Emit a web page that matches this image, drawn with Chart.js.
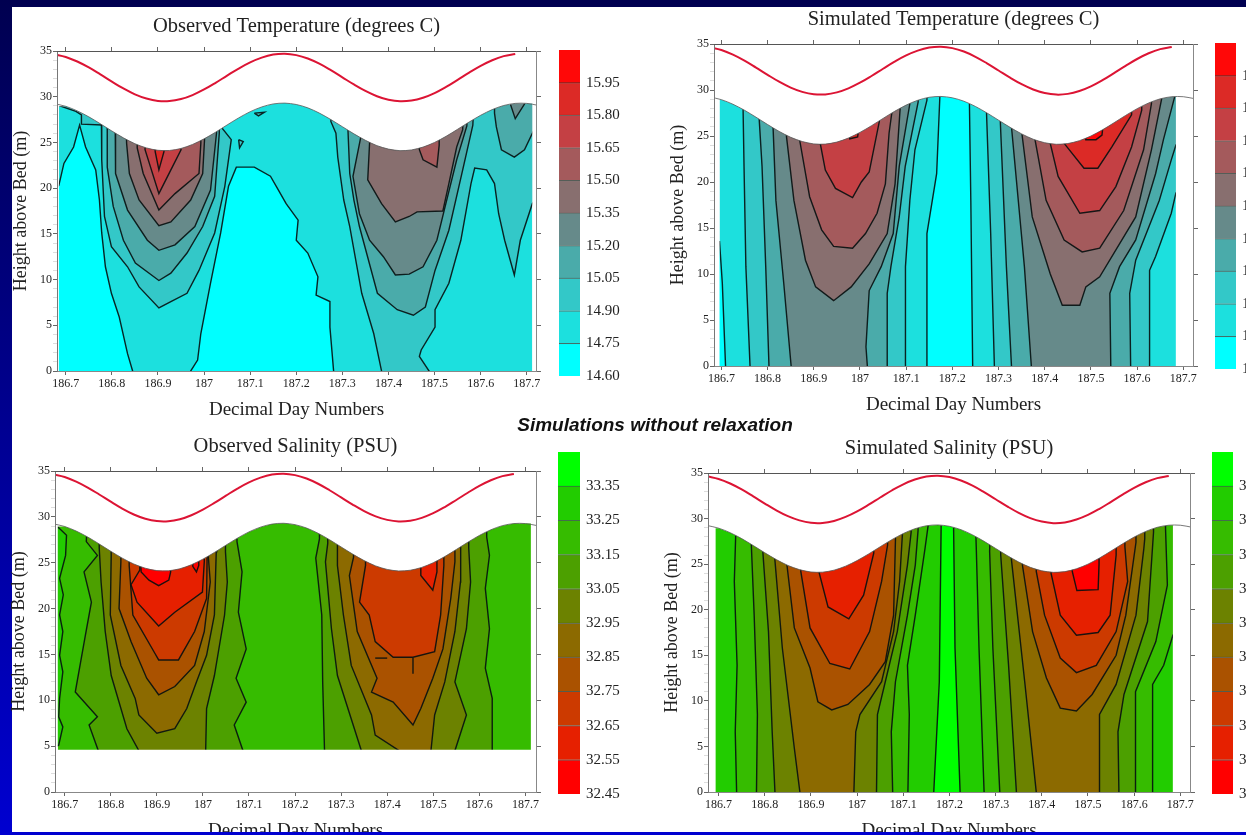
<!DOCTYPE html>
<html>
<head>
<meta charset="utf-8">
<title>Observed and simulated temperature and salinity</title>
<script src="https://cdn.jsdelivr.net/npm/chart.js@4/dist/chart.umd.min.js"></script>
<style>
  html, body { margin: 0; width: 1246px; height: 835px; overflow: hidden; background: linear-gradient(#000050, #0000d0); }
  #sheet { position: absolute; left: 12px; top: 7px; width: 1234px; height: 825px; background: #fff; }
  #strip { position: absolute; left: 0; top: 832px; width: 1246px; height: 3px; background: #0000d0; z-index: 5; }
  canvas { position: absolute; }
  #note { position: absolute; left: 455px; width: 400px; top: 414px; text-align: center; z-index: 4;
    font: italic bold 19px "Liberation Sans", sans-serif; color: #111; white-space: nowrap; }
</style>
</head>
<body>
<div id="sheet"></div>
<div id="note">Simulations without relaxation</div>
<div id="strip"></div>

<script>
// Shared axes ---------------------------------------------------------------
const dayTicks = [186.7, 186.8, 186.9, 187, 187.1, 187.2, 187.3, 187.4, 187.5, 187.6, 187.7];
const heightTicks = [0, 1, 2, 3, 4, 5, 6, 7, 8, 9, 10, 11, 12, 13, 14, 15, 16, 17, 18, 19, 20, 21, 22, 23, 24, 25, 26, 27, 28, 29, 30, 31, 32, 33, 34, 35];
const sideTicks = [0, 5, 10, 15, 20, 25, 30, 35];

// Water surface and tide curve
const surfaceDays = [186.675, 186.7, 186.725, 186.75, 186.775, 186.8, 186.825, 186.85, 186.875, 186.9, 186.925, 186.95, 186.975, 187, 187.025, 187.05, 187.075, 187.1, 187.125, 187.15, 187.175, 187.2, 187.225, 187.25, 187.275, 187.3, 187.325, 187.35, 187.375, 187.4, 187.425, 187.45, 187.475, 187.5, 187.525, 187.55, 187.575, 187.6, 187.625, 187.65, 187.675, 187.7, 187.725];
const surfaceHeights = [29.24, 28.95, 28.45, 27.8, 27.04, 26.25, 25.5, 24.86, 24.4, 24.14, 24.12, 24.34, 24.78, 25.39, 26.12, 26.91, 27.68, 28.36, 28.88, 29.21, 29.3, 29.15, 28.78, 28.21, 27.5, 26.72, 25.94, 25.23, 24.65, 24.27, 24.1, 24.18, 24.49, 25, 25.67, 26.44, 27.23, 27.97, 28.59, 29.04, 29.27, 29.27, 29.05];
const tideHeights = [34.64, 34.35, 33.85, 33.2, 32.44, 31.65, 30.9, 30.26, 29.8, 29.54, 29.52, 29.74, 30.18, 30.79, 31.52, 32.31, 33.08, 33.76, 34.28, 34.61, 34.7, 34.55, 34.18, 33.61, 32.9, 32.12, 31.34, 30.63, 30.05, 29.67, 29.5, 29.58, 29.89, 30.4, 31.07, 31.84, 32.63, 33.37, 33.99, 34.44, 34.67];

// Colour bars ---------------------------------------------------------------
const tempEdges = [14.6, 14.75, 14.9, 15.05, 15.2, 15.35, 15.5, 15.65, 15.8, 15.95, 16.1];
const tempLabels = [14.6, 14.75, 14.9, 15.05, 15.2, 15.35, 15.5, 15.65, 15.8, 15.95];
const tempColors = ["#00ffff", "#1ce0de", "#33c8c8", "#4aabaa", "#668a8a", "#886f6f", "#a45a5c", "#c44044", "#dc2a26", "#ff0808"];
const saltEdges = [32.45, 32.55, 32.65, 32.75, 32.85, 32.95, 33.05, 33.15, 33.25, 33.35, 33.45];
const saltLabels = [32.45, 32.55, 32.65, 32.75, 32.85, 32.95, 33.05, 33.15, 33.25, 33.35];
const saltColors = ["#ff0000", "#e62000", "#cc3a00", "#aa5200", "#8c6a00", "#6c8200", "#4ca000", "#36bc00", "#22cc00", "#00ff00"];

// Observed temperature contours [day, height] --------------------------------
const otCyanLeft = [[186.66, 19], [186.685, 20.3], [186.696, 22.7], [186.717, 24.5], [186.73, 26.9], [186.743, 24.5], [186.765, 22], [186.773, 18.7], [186.778, 15.1], [186.786, 11.4], [186.799, 8.5], [186.816, 5.9], [186.834, 1.9], [186.845, 0], [186.85, -2], [186.66, -2]];
const otCyanMid = [[186.968, -2], [186.971, 0], [186.986, 1.2], [186.993, 4.1], [187.014, 9.6], [187.036, 15.1], [187.053, 20.2], [187.07, 22.3], [187.109, 22.3], [187.144, 21.3], [187.161, 19.8], [187.178, 18.3], [187.204, 16.5], [187.2, 14.3], [187.225, 12.9], [187.247, 10.3], [187.243, 8.3], [187.273, 7.6], [187.273, 4.8], [187.281, 0], [187.283, -2]];
const otB1 = [[186.777, 29], [186.778, 26.2], [186.778, 23.1], [186.784, 16.9], [186.799, 13.6], [186.834, 11.4], [186.859, 9.2], [186.902, 6.9], [186.928, 7.6], [186.963, 8.5], [186.989, 11], [187.023, 15.1], [187.045, 20.2], [187.059, 25.3], [187.04, 26.5], [187.03, 28]];
const otC1 = [[186.79, 29], [186.79, 26.2], [186.79, 22.3], [186.803, 18], [186.825, 14.3], [186.851, 11.8], [186.902, 9.9], [186.928, 10.7], [186.963, 12.9], [186.997, 15.8], [187.023, 19.1], [187.033, 26], [187.033, 28]];
const otD1 = [[186.807, 29], [186.808, 25.6], [186.808, 21.6], [186.834, 17.6], [186.877, 14.3], [186.902, 13.2], [186.937, 13.8], [186.98, 15.8], [187.014, 19.8], [187.027, 26], [187.027, 28]];
const otE1 = [[186.83, 29], [186.832, 24.9], [186.838, 21.6], [186.859, 18.7], [186.902, 15.9], [186.928, 16.3], [186.971, 18.7], [186.997, 21.6], [187.001, 25.3], [187.001, 28]];
const otF1 = [[186.855, 29], [186.855, 24.4], [186.868, 21.6], [186.902, 17.6], [186.937, 19.4], [186.989, 21.6], [186.993, 24.9], [186.993, 28]];
const otG1 = [[186.872, 29], [186.872, 24.2], [186.902, 19.4], [186.928, 22], [186.95, 24.2], [186.95, 28]];
const otH1 = [[186.89, 28], [186.894, 24], [186.902, 22], [186.913, 24], [186.915, 28]];
const otB2 = [[187.28, 30], [187.275, 27.3], [187.286, 26], [187.29, 23.4], [187.303, 18.7], [187.316, 15.8], [187.342, 8.5], [187.368, 4.1], [187.385, 0], [187.39, -2], [187.49, -2], [187.488, 0], [187.467, 1.6], [187.471, 2.3], [187.501, 4.8], [187.501, 6.7], [187.531, 9.6], [187.557, 14.3], [187.579, 20.5], [187.587, 22.2], [187.613, 22], [187.63, 20.5], [187.639, 17.2], [187.652, 14.3], [187.673, 10.5], [187.686, 14.3], [187.712, 18.3], [187.74, 20], [187.74, 36]];
const otC2 = [[187.31, 29], [187.312, 26.5], [187.316, 21.6], [187.325, 18.7], [187.337, 15.8], [187.376, 8.5], [187.419, 6.7], [187.454, 6.1], [187.48, 7], [187.501, 11], [187.531, 15.4], [187.561, 22], [187.583, 26.9], [187.585, 29]];
const otD2 = [[187.337, 28], [187.34, 25.6], [187.323, 21.3], [187.337, 17.2], [187.359, 14.3], [187.389, 12.5], [187.415, 10.5], [187.445, 10.6], [187.475, 11.4], [187.505, 14.3], [187.523, 18], [187.548, 23.1], [187.57, 26.8], [187.572, 29]];
const otE2 = [[187.36, 28], [187.359, 24.9], [187.355, 20.9], [187.385, 18.3], [187.415, 16.3], [187.445, 16.9], [187.462, 17.4], [187.518, 17.5], [187.531, 20.5], [187.548, 24.5], [187.561, 26.4], [187.563, 29]];
const otI = [[187.467, 27], [187.467, 24.2], [187.475, 23.1], [187.505, 22.3], [187.51, 24.7], [187.51, 27]];
const otJ = [[187.63, 30], [187.63, 28.2], [187.634, 26.7], [187.645, 24.2], [187.673, 23.4], [187.695, 24.2], [187.714, 26.2], [187.74, 27], [187.74, 32]];
const otK = [[187.66, 31], [187.665, 29.1], [187.675, 27.6], [187.695, 29.2], [187.7, 31]];
const otCorner = [[186.66, 29.5], [186.687, 29], [186.722, 28.4], [186.734, 28], [186.734, 27], [186.778, 26.9], [186.78, 30]];
const otIslandA = [[187.109, 28.2], [187.131, 28.3], [187.118, 27.9], [187.109, 28.2]];
const otIslandB = [[187.075, 25.3], [187.085, 25.1], [187.077, 24.4], [187.075, 25.3]];

// Simulated temperature contours ---------------------------------------------
const stCyanLeft = [[186.66, 13.5], [186.696, 13.5], [186.702, 9], [186.709, 0], [186.71, -2], [186.66, -2]];
const stCyanMid = [[187.144, -2], [187.145, 0], [187.145, 14.4], [187.166, 20.9], [187.173, 29.3], [187.173, 32], [187.237, 32], [187.237, 28.5], [187.24, 18], [187.244, 0], [187.244, -2]];
const stB1 = [[186.746, 32], [186.747, 27.8], [186.749, 21.7], [186.753, 10.8], [186.762, 0], [186.763, -2], [187.098, -2], [187.098, 0], [187.099, 10.8], [187.108, 18], [187.119, 23.5], [187.145, 28.9], [187.145, 32]];
const stC1 = [[186.78, 32], [186.782, 26.7], [186.788, 21.7], [186.796, 10.8], [186.803, 0], [186.803, -2], [187.059, -2], [187.059, 0], [187.059, 7.9], [187.067, 10.8], [187.085, 16.2], [187.098, 21.7], [187.126, 28.7], [187.126, 32]];
const stD1 = [[186.81, 32], [186.812, 25.8], [186.818, 18], [186.835, 9], [186.851, 0], [186.851, -2], [187.016, -2], [187.016, 0], [187.013, 2.1], [187.02, 8.2], [187.046, 10.8], [187.072, 14.4], [187.085, 21.7], [187.108, 28.5], [187.108, 32]];
const stE1 = [[186.84, 30], [186.841, 24.9], [186.857, 18], [186.882, 11.5], [186.904, 8.6], [186.943, 7.1], [186.981, 8.6], [187.02, 11.1], [187.059, 14.4], [187.076, 19.8], [187.087, 28], [187.087, 31]];
const stF1 = [[186.868, 30], [186.87, 24.4], [186.891, 18.4], [186.917, 14.8], [186.943, 13], [186.984, 12.8], [187.012, 14.4], [187.037, 16.6], [187.055, 19.8], [187.063, 25.3], [187.07, 27.9], [187.07, 31]];
const stG1 = [[186.912, 30], [186.914, 24.2], [186.925, 21.3], [186.947, 19.3], [186.984, 18.3], [187.003, 20], [187.02, 21.1], [187.042, 26.6], [187.042, 30]];
const stH1 = [[186.975, 27], [186.978, 24.7], [186.995, 24.9], [187, 27]];
const stB2 = [[187.274, 32], [187.274, 27.5], [187.283, 14.4], [187.291, 0], [187.291, -2], [187.627, -2], [187.627, 0], [187.627, 10.4], [187.64, 11.9], [187.674, 16.6], [187.684, 18.8], [187.72, 21], [187.72, 34]];
const stC2 = [[187.304, 32], [187.304, 26.4], [187.317, 10.8], [187.328, 0], [187.328, -2], [187.586, -2], [187.586, 0], [187.584, 7.9], [187.597, 11.5], [187.648, 18], [187.674, 22.4], [187.684, 24], [187.72, 26], [187.72, 34]];
const stD2 = [[187.328, 32], [187.328, 26], [187.356, 10.8], [187.371, 0], [187.371, -2], [187.543, -2], [187.543, 0], [187.541, 7.9], [187.562, 10.8], [187.597, 13.7], [187.64, 20.9], [187.657, 24.6], [187.681, 29.2], [187.69, 33]];
const stE2 = [[187.352, 32], [187.351, 25.1], [187.373, 16.2], [187.412, 10], [187.438, 6.6], [187.476, 6.6], [187.489, 8.6], [187.519, 9.7], [187.597, 16.2], [187.631, 23.5], [187.653, 29], [187.655, 32]];
const stF2 = [[187.38, 31], [187.379, 24.6], [187.403, 18], [187.442, 13.7], [187.481, 12.4], [187.519, 12.8], [187.571, 16.9], [187.614, 23.5], [187.631, 28.5], [187.631, 31]];
const stG2 = [[187.412, 30], [187.412, 24.2], [187.429, 20.6], [187.476, 16.6], [187.519, 16.9], [187.554, 19.5], [187.588, 23.8], [187.61, 27.8], [187.61, 31]];
const stH2 = [[187.441, 30], [187.442, 24.2], [187.485, 21.5], [187.515, 21.5], [187.545, 23.8], [187.588, 27.3], [187.59, 31]];
const stI2 = [[187.48, 28], [187.489, 24.6], [187.511, 24.6], [187.524, 25.1], [187.53, 28]];

// Observed salinity contours -------------------------------------------------
const osStrip = [[186.66, 30], [186.687, 28.8], [186.704, 28], [186.702, 25.8], [186.689, 23.3], [186.697, 21.5], [186.689, 19.3], [186.696, 17.5], [186.689, 14.9], [186.696, 13.1], [186.689, 10.2], [186.687, 8.2], [186.696, 7.1], [186.687, 5.1], [186.66, 4.5]];
const osA1 = [[186.75, 31], [186.747, 27.3], [186.771, 25.8], [186.742, 24], [186.758, 20.7], [186.745, 17.1], [186.723, 10.9], [186.771, 8.2], [186.753, 7.3], [186.773, 4.5], [186.775, 3], [187.09, 3], [187.087, 4.5], [187.068, 7.3], [187.094, 9.8], [187.072, 12.4], [187.094, 15.6], [187.077, 19.6], [187.085, 24], [187.074, 27.3], [187.074, 31]];
const osB1 = [[186.775, 31], [186.775, 26.6], [186.779, 22.9], [186.788, 17.5], [186.801, 12.7], [186.835, 6.9], [186.861, 4.5], [186.865, 3], [187.01, 3], [187.006, 4.5], [187.008, 9.1], [187.025, 12.7], [187.047, 19.3], [187.053, 22.9], [187.049, 26.2], [187.049, 31]];
const osC1 = [[186.8, 31], [186.801, 25.8], [186.799, 19.3], [186.822, 13.8], [186.853, 10.2], [186.861, 8.4], [186.9, 6.4], [186.939, 6.9], [186.965, 9.1], [186.986, 12], [187.008, 14.9], [187.025, 19.3], [187.029, 26.2], [187.03, 31]];
const osD1 = [[186.822, 31], [186.822, 25.1], [186.818, 20], [186.844, 16.4], [186.878, 12.4], [186.904, 10.6], [186.939, 11.5], [186.982, 13.8], [187.003, 17.5], [187.016, 22.9], [187.012, 25.5], [187.012, 31]];
const osE1 = [[186.84, 31], [186.84, 24.7], [186.848, 19.3], [186.896, 15.1], [186.904, 14.4], [186.947, 14.4], [186.982, 17.5], [187.008, 21.1], [187.009, 25.1], [187.009, 31]];
const osF1 = [[186.863, 31], [186.863, 24.2], [186.844, 22.6], [186.857, 20.7], [186.904, 18.1], [186.939, 19.6], [186.999, 21.8], [187.003, 25.1], [187.003, 31]];
const osG1 = [[186.862, 28], [186.866, 24], [186.883, 23.1], [186.904, 22.5], [186.926, 23.1], [186.93, 24], [186.93, 28]];
const osG1b = [[186.98, 28], [186.978, 24.6], [186.986, 24], [186.991, 24.7], [186.991, 28]];
const osA2 = [[187.253, 31], [187.253, 27.6], [187.245, 25.5], [187.258, 19.3], [187.26, 12], [187.264, 4.5], [187.264, 3], [187.63, 3], [187.628, 4.5], [187.628, 10.2], [187.613, 13.5], [187.622, 17.8], [187.613, 22.2], [187.622, 25.8], [187.616, 27.8], [187.616, 31]];
const osB2 = [[187.27, 31], [187.271, 27.1], [187.266, 25.1], [187.279, 17.8], [187.292, 12.7], [187.344, 4.5], [187.348, 3], [187.547, 3], [187.547, 4.5], [187.572, 8.4], [187.547, 12], [187.572, 17.8], [187.581, 22.9], [187.577, 26.6], [187.577, 31]];
const osC2 = [[187.292, 31], [187.292, 26.6], [187.292, 24.7], [187.305, 19.3], [187.322, 13.8], [187.366, 8.4], [187.374, 6.2], [187.426, 4.5], [187.43, 3], [187.49, 3], [187.495, 4.5], [187.503, 8.4], [187.525, 12], [187.547, 17.5], [187.559, 22.9], [187.559, 26.2], [187.56, 31]];
const osD2 = [[187.326, 31], [187.327, 25.6], [187.318, 23.6], [187.335, 17.5], [187.378, 12.4], [187.366, 10.9], [187.413, 9.8], [187.456, 7.3], [187.473, 9.1], [187.499, 12.4], [187.521, 15.6], [187.538, 21.1], [187.547, 25.1], [187.547, 31]];
const osE2 = [[187.352, 31], [187.353, 24.7], [187.34, 20.7], [187.361, 19.3], [187.374, 16.4], [187.413, 14.7], [187.456, 14.7], [187.503, 15.3], [187.516, 19.3], [187.523, 24.7], [187.523, 31]];
const osF2 = [[187.473, 28], [187.473, 23.6], [187.499, 22], [187.508, 24], [187.508, 28]];
const osSpur = [[187.456, 14.6], [187.456, 12.9]];
const osDash = [[187.374, 14.6], [187.4, 14.6]];

// Simulated salinity contours ------------------------------------------------
const ssCentre = [[187.166, -2], [187.166, 0], [187.178, 12.1], [187.182, 29.3], [187.182, 32], [187.209, 32], [187.209, 28.9], [187.212, 15.8], [187.223, 0], [187.223, -2]];
const ssA1 = [[186.737, 32], [186.737, 28.2], [186.734, 23.1], [186.74, 13.9], [186.736, 6.6], [186.739, 0], [186.739, -2], [187.11, -2], [187.11, 0], [187.113, 8.5], [187.109, 13.9], [187.126, 19.4], [187.147, 26.7], [187.154, 29.3], [187.154, 32]];
const ssB1 = [[186.769, 32], [186.771, 26.9], [186.777, 19.4], [186.784, 8.5], [186.782, 0], [186.782, -2], [187.077, -2], [187.077, 0], [187.074, 6.6], [187.083, 12.1], [187.109, 19.4], [187.126, 24.9], [187.132, 28.7], [187.132, 32]];
const ssC1 = [[186.795, 32], [186.796, 26.2], [186.808, 17.6], [186.816, 6.6], [186.822, 0], [186.822, -2], [187.042, -2], [187.042, 0], [187.044, 8.5], [187.061, 12.1], [187.087, 17.6], [187.109, 24.9], [187.117, 28.5], [187.117, 32]];
const ssD1 = [[186.82, 32], [186.822, 25.4], [186.838, 15.8], [186.864, 4.8], [186.876, 0], [186.876, -2], [186.993, -2], [186.993, 0], [186.997, 6.6], [187.006, 8.5], [187.053, 12.1], [187.079, 17.6], [187.092, 23.1], [187.098, 28.2], [187.098, 32]];
const ssE1 = [[186.85, 31], [186.848, 24.9], [186.864, 18], [186.898, 13.6], [186.915, 9.9], [186.945, 9], [186.98, 9.6], [187.027, 11.8], [187.061, 14.3], [187.079, 19.4], [187.083, 27.6], [187.083, 31]];
const ssF1 = [[186.88, 31], [186.878, 24.2], [186.898, 18], [186.941, 14.1], [186.984, 13.5], [187.027, 17.6], [187.053, 23.1], [187.066, 27.1], [187.066, 31]];
const ssG1 = [[186.92, 31], [186.918, 24], [186.937, 20.3], [186.982, 19], [187.014, 21.6], [187.036, 26.2], [187.036, 31]];
const ssA2 = [[187.255, 32], [187.258, 26.9], [187.264, 15.8], [187.275, 0], [187.275, -2], [187.64, -2], [187.64, 0], [187.64, 11.8], [187.664, 13.9], [187.684, 17.2], [187.72, 20], [187.72, 34]];
const ssB2 = [[187.29, 32], [187.287, 26.4], [187.294, 15.8], [187.309, 0], [187.309, -2], [187.604, -2], [187.604, 0], [187.602, 11], [187.647, 16.5], [187.672, 22.7], [187.668, 28.9], [187.668, 32]];
const ssC2 = [[187.313, 32], [187.311, 26], [187.328, 13.9], [187.345, 0], [187.345, -2], [187.567, -2], [187.567, 0], [187.565, 6.6], [187.578, 10.7], [187.629, 18.7], [187.642, 28.5], [187.642, 32]];
const ssD2 = [[187.335, 32], [187.334, 25.6], [187.363, 12.1], [187.388, 0], [187.388, -2], [187.524, -2], [187.524, 0], [187.526, 8.5], [187.561, 11.8], [187.604, 19.4], [187.621, 26.7], [187.623, 27.8], [187.623, 32]];
const ssE2 = [[187.36, 31], [187.358, 24.9], [187.38, 17.6], [187.41, 12.5], [187.44, 9.2], [187.475, 8.9], [187.509, 10.7], [187.561, 15], [187.582, 19.4], [187.604, 27.4], [187.604, 31]];
const ssF2 = [[187.39, 31], [187.388, 24.2], [187.406, 19.4], [187.44, 14.7], [187.475, 13.1], [187.518, 13.9], [187.561, 17.6], [187.586, 23.1], [187.58, 26.9], [187.58, 31]];
const ssG2 = [[187.42, 31], [187.42, 24], [187.44, 19.4], [187.475, 17.2], [187.522, 17.5], [187.548, 19.4], [187.561, 26], [187.561, 31]];
const ssH2 = [[187.46, 29], [187.466, 24.2], [187.476, 22.1], [187.522, 22.2], [187.524, 25], [187.524, 29]];

// Which band colour sits inside each contour (painted in this order), null = line only
const obsTempContours = [[0, otCyanLeft], [0, otCyanMid], [2, otCorner], [2, otIslandA], [2, otIslandB], [2, otB1], [3, otC1], [4, otD1], [5, otE1], [6, otF1], [7, otG1], [8, otH1], [2, otB2], [3, otC2], [4, otD2], [5, otE2], [6, otI], [3, otJ], [4, otK]];
const simTempContours = [[0, stCyanLeft], [0, stCyanMid], [2, stB1], [3, stC1], [4, stD1], [5, stE1], [6, stF1], [7, stG1], [8, stH1], [2, stB2], [3, stC2], [4, stD2], [5, stE2], [6, stF2], [7, stG2], [8, stH2], [9, stI2]];
const obsSaltContours = [[8, osStrip], [6, osA1], [5, osB1], [4, osC1], [3, osD1], [2, osE1], [1, osF1], [0, osG1], [0, osG1b], [6, osA2], [5, osB2], [4, osC2], [3, osD2], [2, osE2], [1, osF2], [null, osSpur], [null, osDash]];
const simSaltContours = [[9, ssCentre], [7, ssA1], [6, ssB1], [5, ssC1], [4, ssD1], [3, ssE1], [2, ssF1], [1, ssG1], [7, ssA2], [6, ssB2], [5, ssC2], [4, ssD2], [3, ssE2], [2, ssF2], [1, ssG2], [0, ssH2]];

// Fills the polygon traced by a dataset's own points, before its line is drawn
const polyFill = {
  id: "polyFill",
  beforeDatasetDraw: function (chart, args) {
    const color = chart.data.datasets[args.index].polyColor;
    if (!color) return;
    const ctx = chart.ctx, area = chart.chartArea;
    ctx.save();
    ctx.beginPath();
    ctx.rect(area.left, area.top, area.width, area.height);
    ctx.clip();
    ctx.beginPath();
    args.meta.data.forEach(function (pt, i) {
      if (i === 0) ctx.moveTo(pt.x, pt.y);
      else ctx.lineTo(pt.x, pt.y);
    });
    ctx.closePath();
    ctx.fillStyle = color;
    ctx.fill();
    ctx.restore();
  },
};

const SERIF = '"Liberation Serif", serif';

function polygon(points, color, line) {
  return {
    data: points,
    polyColor: color,
    showLine: !!line,
    borderColor: line || "transparent",
    borderWidth: line ? 1.4 : 0,
    pointRadius: 0,
  };
}

function contourPanel(p) {
  const pairs = surfaceDays.map(function (d, i) { return [d, surfaceHeights[i]]; });
  const inside = pairs.filter(function (q) { return q[0] >= p.dataMin && q[0] <= p.dataMax; });
  const first = inside[0][1], last = inside[inside.length - 1][1];

  const sets = [];
  // base band
  sets.push(polygon([[p.dataMin, -2], [p.dataMin, 36], [p.dataMax, 36], [p.dataMax, -2]], p.colors[p.base]));
  p.contours.forEach(function (c) {
    sets.push(polygon(c[1], c[0] === null ? null : p.colors[c[0]], "rgba(5,15,15,0.9)"));
  });
  // white outside the water column
  const mask = [[p.xMin, 37], [p.xMin, -2], [p.dataMin, -2], [p.dataMin, first]]
    .concat(inside)
    .concat([[p.dataMax, last], [p.dataMax, -2], [p.xMax, -2], [p.xMax, 37]]);
  sets.push(polygon(mask, "#ffffff"));
  if (p.floor) sets.push(polygon([[p.xMin, p.floor], [p.xMax, p.floor], [p.xMax, -2], [p.xMin, -2]], "#ffffff"));
  // water surface
  sets.push({ data: pairs, showLine: true, borderColor: "#555", borderWidth: 0.8, pointRadius: 0, tension: 0.3 });
  // tide curve
  sets.push({
    data: tideHeights.map(function (h, i) { return [surfaceDays[i], h]; }),
    showLine: true, borderColor: "#dc1434", borderWidth: 2, pointRadius: 0, tension: 0.4,
  });
  sets.forEach(function (s, i) { s.order = sets.length - i; });

  const canvas = document.createElement("canvas");
  const boxLeft = 47, boxRight = 10, boxTop = 37, boxBottom = 50;
  canvas.width = p.right - p.left + boxLeft + boxRight;
  canvas.height = p.bottom - p.top + boxTop + boxBottom;
  canvas.style.left = p.left - boxLeft + "px";
  canvas.style.top = p.top - boxTop + "px";
  document.body.appendChild(canvas);

  const tickFont = { family: SERIF, size: 12 };
  new Chart(canvas, {
    type: "scatter",
    data: { datasets: sets },
    plugins: [polyFill],
    options: {
      responsive: false,
      animation: false,
      layout: { padding: 0 },
      plugins: { legend: { display: false }, tooltip: { enabled: false } },
      scales: {
        x: {
          type: "linear", position: "bottom", min: p.xMin, max: p.xMax,
          afterBuildTicks: function (s) { s.ticks = dayTicks.map(function (v) { return { value: v }; }); },
          afterFit: function (s) { s.height = boxBottom; },
          ticks: {
            autoSkip: false, maxRotation: 0, padding: 2, color: "#222", font: tickFont,
            callback: function (v) { return String(+v.toFixed(1)); },
          },
          grid: { drawOnChartArea: false, tickLength: 4, tickColor: "#666" },
          border: { color: "#888", z: 1 },
          title: { display: true, text: "Decimal Day Numbers", color: "#222", padding: 0, font: { family: SERIF, size: 19 } },
        },
        y: {
          type: "linear", position: "left", min: 0, max: 35,
          afterBuildTicks: function (s) { s.ticks = heightTicks.map(function (v) { return { value: v }; }); },
          afterFit: function (s) { s.width = boxLeft; },
          ticks: {
            autoSkip: false, padding: 1, color: "#222", font: tickFont,
            callback: function (v) { return v % 5 === 0 ? String(v) : ""; },
          },
          grid: {
            drawOnChartArea: false, tickLength: 4,
            tickColor: function (c) { return c.tick && c.tick.value % 5 === 0 ? "#666" : "#ddd"; },
          },
          border: { color: "#777", z: 1 },
          title: { display: true, text: "Height above Bed (m)", color: "#222", padding: 0, font: { family: SERIF, size: 18 } },
        },
        x2: {
          type: "linear", axis: "x", position: "top", min: p.xMin, max: p.xMax,
          afterBuildTicks: function (s) { s.ticks = dayTicks.map(function (v) { return { value: v }; }); },
          afterFit: function (s) { s.height = boxTop; },
          ticks: { display: false },
          grid: { drawOnChartArea: false, tickLength: 4, tickColor: "#666" },
          border: { color: "#555", z: 1 },
          title: { display: true, text: p.title, color: "#222", padding: 0, font: { family: SERIF, size: 20.5 } },
        },
        y2: {
          type: "linear", axis: "y", position: "right", min: 0, max: 35,
          afterBuildTicks: function (s) { s.ticks = sideTicks.map(function (v) { return { value: v }; }); },
          afterFit: function (s) { s.width = boxRight; },
          ticks: { display: false },
          grid: { drawOnChartArea: false, tickLength: 5, tickColor: "#666" },
          border: { color: "#888", z: 1 },
        },
      },
    },
  });
}

function colorBar(b) {
  const sets = b.colors.map(function (color, i) {
    return {
      data: [[b.edges[i], b.edges[i + 1]]],
      backgroundColor: color,
      borderColor: "rgba(10,40,30,0.65)",
      borderWidth: i === b.colors.length - 1 ? 0 : { top: 1 },
      borderSkipped: false,
      grouped: false,
      barPercentage: 1,
      categoryPercentage: 1,
    };
  });
  const pad = 15, axisWidth = 50;
  const canvas = document.createElement("canvas");
  canvas.width = b.right - b.left + axisWidth;
  canvas.height = b.bottom - b.top + pad * 2;
  canvas.style.left = b.left + "px";
  canvas.style.top = b.top - pad + "px";
  document.body.appendChild(canvas);

  new Chart(canvas, {
    type: "bar",
    data: { labels: [""], datasets: sets },
    options: {
      responsive: false,
      animation: false,
      layout: { padding: 0 },
      plugins: { legend: { display: false }, tooltip: { enabled: false } },
      scales: {
        x: { display: false },
        y: {
          position: "right",
          min: b.edges[0],
          max: b.edges[b.edges.length - 1],
          afterBuildTicks: function (s) { s.ticks = b.labels.map(function (v) { return { value: v }; }); },
          afterFit: function (s) { s.width = axisWidth; },
          ticks: {
            autoSkip: false, padding: 6, color: "#222", font: { family: SERIF, size: 15 },
            callback: function (v) { return v.toFixed(2); },
          },
          grid: { display: false, drawTicks: false },
          border: { display: false },
        },
      },
    },
  });
}

// Four panels ----------------------------------------------------------------
contourPanel({
  title: "Observed Temperature (degrees C)", contours: obsTempContours, colors: tempColors, base: 1,
  left: 57, right: 536, top: 51, bottom: 371, xMin: 186.681, xMax: 187.72, dataMin: 186.685, dataMax: 187.712,
});
contourPanel({
  title: "Simulated Temperature (degrees C)", contours: simTempContours, colors: tempColors, base: 1,
  left: 714, right: 1193, top: 44, bottom: 366, xMin: 186.684, xMax: 187.721, dataMin: 186.696, dataMax: 187.684,
});
contourPanel({
  title: "Observed Salinity (PSU)", contours: obsSaltContours, colors: saltColors, base: 7, floor: 4.6,
  left: 55, right: 536, top: 471, bottom: 792, xMin: 186.679, xMax: 187.723, dataMin: 186.685, dataMax: 187.712,
});
contourPanel({
  title: "Simulated Salinity (PSU)", contours: simSaltContours, colors: saltColors, base: 8,
  left: 708, right: 1190, top: 473, bottom: 792, xMin: 186.677, xMax: 187.721, dataMin: 186.693, dataMax: 187.684,
});

colorBar({ edges: tempEdges, labels: tempLabels, colors: tempColors, left: 559, right: 580, top: 50, bottom: 376 });
colorBar({ edges: tempEdges, labels: tempLabels, colors: tempColors, left: 1215, right: 1236, top: 43, bottom: 369 });
colorBar({ edges: saltEdges, labels: saltLabels, colors: saltColors, left: 558, right: 580, top: 452, bottom: 794 });
colorBar({ edges: saltEdges, labels: saltLabels, colors: saltColors, left: 1212, right: 1233, top: 452, bottom: 794 });
</script>
</body>
</html>
